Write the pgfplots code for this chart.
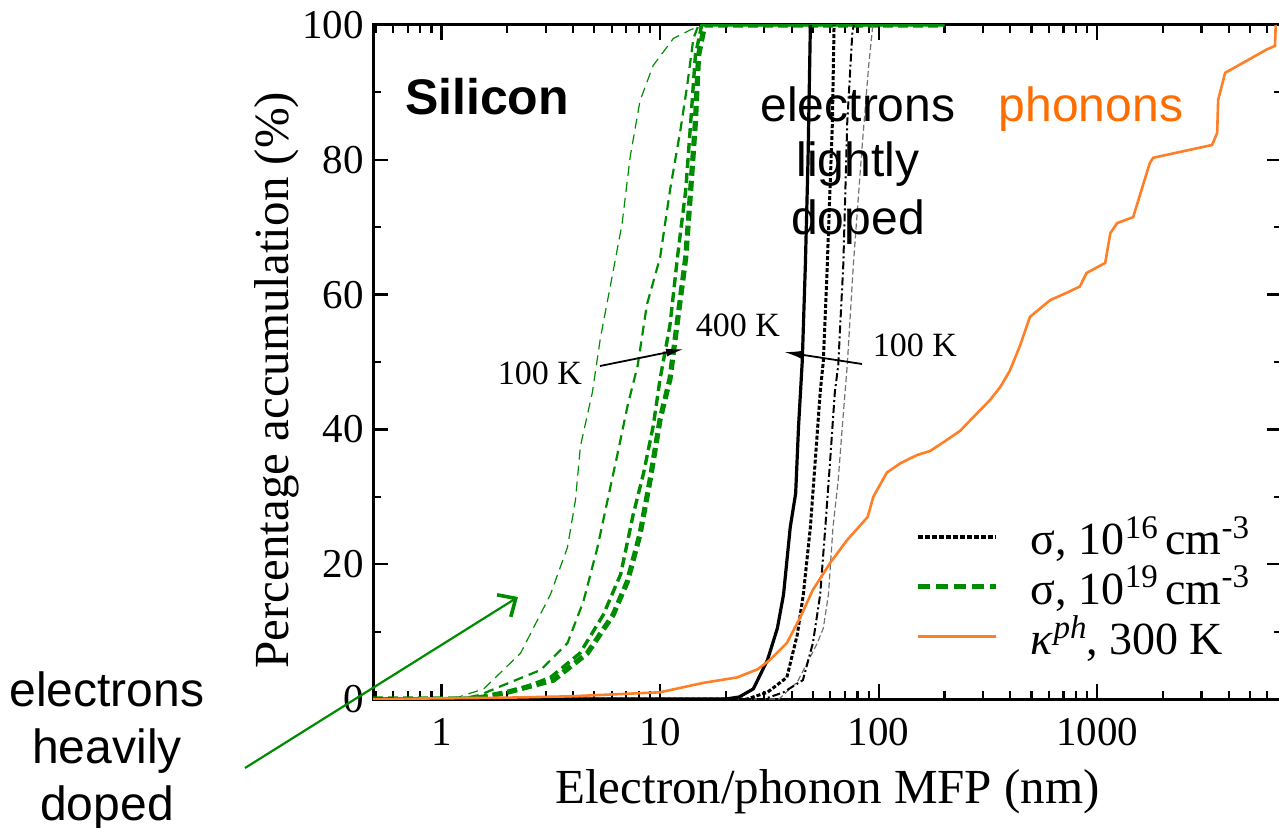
\documentclass[border=0pt]{standalone}
\usepackage{fontspec}
\setmainfont{Liberation Serif}
\setsansfont{Liberation Sans}
\usepackage{pgfplots}
\pgfplotsset{compat=1.18}
\usetikzlibrary{arrows.meta}
\definecolor{dgreen}{RGB}{0,140,0}
\definecolor{orng}{RGB}{255,127,39}
\definecolor{txtorng}{RGB}{255,108,0}
\newcommand{\sps}[1]{\raisebox{0.36em}{\fontsize{16.5}{18}\selectfont #1}}
\begin{document}
\begin{tikzpicture}
\useasboundingbox (0,0) rectangle (639.5pt,-414pt);
\begin{axis}[
  at={(186.5pt,-349.5pt)}, anchor=south west,
  scale only axis, width=454.5pt, height=337pt,
  xmode=log, xmin=0.486, xmax=7000, ymin=0, ymax=100,
  xtick={1,10,100,1000}, xticklabels={1,10,100,1000},
  minor xtick={0.5,0.6,0.7,0.8,0.9,2,3,4,5,6,7,8,9,20,30,40,50,60,70,80,90,200,300,400,500,600,700,800,900,2000,3000,4000,5000,6000,7000},
  ytick={0,20,40,60,80,100}, yticklabels={0,20,40,60,80,100},
  minor ytick={10,30,50,70,90},
  tick pos=both, tick align=inside,
  major tick length=7.5pt, minor tick length=4pt,
  tick style={black, line width=1.1pt},
  axis line style={line width=1.5pt},
  /pgf/number format/assume math mode=true,
  ticklabel style={font=\fontsize{20.5}{24}\selectfont},
  xticklabel style={yshift=-6pt},
  yticklabel style={xshift=-1pt},
  xlabel={Electron/phonon MFP (nm)},
  ylabel={Percentage accumulation (\%)},
  label style={font=\fontsize{24.5}{28}\selectfont},
  xlabel style={at={(rel axis cs:0.5,0)}, anchor=base, yshift=-52pt},
  ylabel style={at={(rel axis cs:-0.093,0.473)}, anchor=base},
  legend image code/.code={\draw[#1] (0pt,0pt) -- (39pt,0pt);},
  legend style={at={(rel axis cs:0.596,0.276)}, anchor=north west, draw=none, fill=none,
    font=\fontsize{23}{26}\selectfont, inner sep=0pt, row sep=1pt,
    nodes={inner sep=1.5pt},
    /tikz/every odd column/.append style={column sep=15pt}},
  legend cell align=left,
]
\addlegendimage{black, line width=1.9pt, dash pattern=on 2.5pt off 1pt}
\addlegendentry{σ, 10\sps{16}\,cm\sps{-3}}
\addlegendimage{dgreen, line width=2.4pt, dash pattern=on 6pt off 3pt}
\addlegendentry{σ, 10\sps{19}\,cm\sps{-3}}
\addlegendimage{orng, line width=1.3pt}
\addlegendentry{\textit{κ}\sps{\textit{ph}}, 300 K}

% heavily doped (green), 100 K .. 400 K
\addplot[forget plot, dgreen, line width=0.6pt, dash pattern=on 5pt off 3pt] coordinates {
(0.486,0)(1.0,0)(1.2,0.3)(1.56,1.5)(2.3,6.8)(3.15,15.5)(3.77,22.5)(4.1,29.5)(4.32,37.5)(4.9,45.5)(5.33,53.5)(6.1,63.5)(6.7,70.5)(7.3,80.5)(8.1,88.8)(9.3,94)(11.5,98)(13.8,99.3)(16,100)(200,100)};
\addplot[forget plot, dgreen, line width=1.1pt, dash pattern=on 5pt off 3pt] coordinates {
(0.486,0)(1.2,0)(1.5,0.6)(1.9,2)(2.84,4.3)(3.77,8.3)(4.46,14.5)(5.17,22.5)(5.75,29.5)(6.4,36.5)(7.1,43.5)(7.9,49.5)(8.7,58.5)(10,65.5)(11.1,75.5)(12.4,84.5)(13.3,91)(14.2,98)(15,100)(200,100)};
\addplot[forget plot, dgreen, line width=1.7pt, dash pattern=on 5pt off 2.5pt] coordinates {
(0.486,0)(1.3,0)(1.7,0.5)(2.3,1.5)(3.15,3.2)(4.3,6.8)(5.5,12.5)(6.6,18.5)(7.55,27.5)(8.4,33.5)(9.3,40.5)(10,47.5)(11.1,55.5)(12,65.5)(13.1,75.5)(13.8,85.5)(14.5,95.5)(15.5,100)(200,100)};
\addplot[forget plot, dgreen, line width=2.6pt, dash pattern=on 5pt off 2.5pt] coordinates {
(0.486,0)(1.4,0)(2.0,1)(3.25,2.8)(4.65,6.8)(6.1,12.5)(7.1,17.5)(8.1,24.5)(9.0,32.5)(10,41.5)(11.1,47.5)(12,56)(13.1,65.5)(13.8,75.5)(14.5,85.5)(15,95.5)(16,100)(200,100)};

% lightly doped (black), 100 K .. 400 K
\addplot[forget plot, black!55, line width=0.6pt, dash pattern=on 3pt off 1.5pt] coordinates {
(0.486,0)(35,0)(42.4,2.5)(52.4,8.3)(55.8,10.5)(58.9,15.5)(61.8,25.5)(65.3,32.5)(68.2,40.5)(71.8,49.5)(76.6,64.5)(84,82)(90,94)(94,100)};
\addplot[forget plot, black, line width=1pt, dash pattern=on 4pt off 1.5pt on 1pt off 1.5pt] coordinates {
(0.486,0)(30,0)(36.7,1)(45,2.8)(50,8.3)(54,15.5)(57,25.5)(60,35.5)(63,45.5)(65.3,49.5)(68.9,64.5)(71.8,85.5)(75.8,99)(77,100)};
\addplot[forget plot, black, line width=1.5pt, dash pattern=on 2pt off 1pt] coordinates {
(0.486,0)(25,0)(31,1)(38,3.2)(42.4,9.5)(45.2,15.5)(48.7,25.5)(51.3,35.5)(54,45.5)(55.8,50.1)(58.2,64.5)(61.4,85.5)(62.5,100)};
\addplot[forget plot, black, line width=1.6pt] coordinates {
(0.486,0)(20,0)(23,0.3)(26.7,1.5)(31,5.8)(34.4,10.5)(36.7,15.5)(39.4,25.5)(41.7,30.5)(43,40.5)(44.7,50.1)(46.2,64.5)(47.5,80)(48.7,100)};

% phonons
\addplot[forget plot, orng, line width=1.3pt] coordinates {
(0.486,0)(1,0.1)(2,0.2)(3.9,0.4)(10,1)(15.8,2.4)(22.5,3.2)(27.9,4.4)(31.8,5.8)(38,8.3)(43.9,12.2)(50,16.2)(60,20.2)(71.8,23.6)(89,27)(94.5,30)(109,33.6)(126,35)(150,36.2)(172,36.8)(200,38.2)(236,39.8)(280,42.3)(324,44.4)(360,46.3)(398,48.7)(444,52.5)(492,56.7)(610,59.2)(728,60.3)(832,61.2)(893,63.2)(1087,64.7)(1147,69.1)(1232,70.6)(1459,71.5)(1738,79.5)(1802,80.3)(3352,82.2)(3535,84)(3573,88.9)(3845,92.9)(5985,96.4)(6500,96.9)(6550,100)};
\end{axis}

\begin{scope}[x=0.5pt,y=-0.5pt]
\node[font=\sffamily\bfseries\fontsize{25}{30}\selectfont, anchor=base] at (487,115) {Silicon};
\node[font=\sffamily\fontsize{24}{29}\selectfont, anchor=base] at (858,122) {electrons};
\node[font=\sffamily\fontsize{24}{29}\selectfont, anchor=base] at (858,177) {lightly};
\node[font=\sffamily\fontsize{24}{29}\selectfont, anchor=base] at (858,235) {doped};
\node[font=\sffamily\fontsize{24}{29}\selectfont, anchor=base, text=txtorng] at (1091,122) {phonons};
\node[font=\sffamily\fontsize{24}{29}\selectfont, anchor=base] at (107,706) {electrons};
\node[font=\sffamily\fontsize{24}{29}\selectfont, anchor=base] at (107,763) {heavily};
\node[font=\sffamily\fontsize{24}{29}\selectfont, anchor=base] at (107,820) {doped};
\node[font=\fontsize{17}{20}\selectfont, anchor=base] at (540,385) {100 K};
\node[font=\fontsize{17}{20}\selectfont, anchor=base] at (738,337) {400 K};
\node[font=\fontsize{17}{20}\selectfont, anchor=base] at (915,357) {100 K};
\draw[line width=0.9pt, -{Latex[length=9pt,width=4pt]}] (600,366) -- (684,349);
\draw[line width=0.9pt, -{Latex[length=9pt,width=4pt]}] (862,364) -- (784,352);
\draw[dgreen, line width=1.1pt, -{Straight Barb[length=7pt,width=13pt,line width=1.8pt]}] (245,768) -- (518,597);
\end{scope}
\end{tikzpicture}
\end{document}
